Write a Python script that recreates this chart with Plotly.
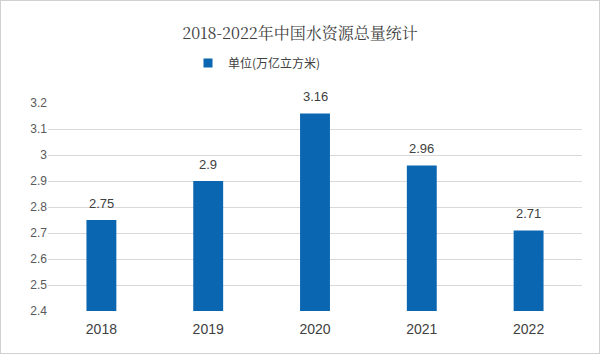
import plotly.graph_objects as go

years = ["2018", "2019", "2020", "2021", "2022"]
values = [2.75, 2.9, 3.16, 2.96, 2.71]
value_labels = ["2.75", "2.9", "3.16", "2.96", "2.71"]
series_name = "单位(万亿立方米)"
title_text = "2018-2022年中国水资源总量统计"
bar_color = "#0b66b2"

fig = go.Figure()
fig.add_trace(go.Bar(
    x=years, y=values, name=series_name,
    marker=dict(color=bar_color, line=dict(width=0)),
    showlegend=False, legendgroup="s",
))
# legend entry with a small square symbol like the reference
fig.add_trace(go.Scatter(
    x=[None], y=[None], mode="markers", name=series_name, legendgroup="s",
    marker=dict(symbol="square", size=9, color=bar_color), showlegend=True,
))

# category axis: annotations positioned by category index
annotations = [
    dict(x=i, y=v, text=lbl, xref="x", yref="y", showarrow=False, yanchor="bottom", yshift=7,
         font=dict(size=13, color="#404040", family="Liberation Sans, Arial"))
    for i, (v, lbl) in enumerate(zip(values, value_labels))
]

fig.update_layout(
    width=600, height=354,
    paper_bgcolor="white", plot_bgcolor="white",
    margin=dict(l=48, r=18, t=103, b=43),
    bargap=0.72,
    title=dict(text=title_text, x=0.5, xanchor="center", y=1 - 33/354, yanchor="middle",
               font=dict(size=16, color="#404040", family="Noto Serif CJK SC, Noto Sans CJK SC")),
    legend=dict(orientation="h", xref="container", x=188/600, xanchor="left",
                yref="container", y=1 - 63/354, yanchor="middle",
                font=dict(size=12, color="#404040", family="Noto Sans CJK SC"), itemwidth=30),
    xaxis=dict(type="category", range=[-0.5, len(years) - 0.5], showgrid=False, showline=False,
               ticks="", ticklabelstandoff=8,
               tickfont=dict(size=14, color="#404040", family="Liberation Sans, Arial")),
    yaxis=dict(range=[2.4, 3.2], dtick=0.1, tick0=2.4, showgrid=True, gridcolor="#d9d9d9", gridwidth=1,
               zeroline=False, showline=False, ticks="", tickformat="~g",
               tickfont=dict(size=12, color="#595959", family="Liberation Sans, Arial")),
    annotations=annotations,
    shapes=[dict(type="rect", xref="paper", yref="paper", x0=-48/534, x1=1+18/534, y0=-43/208, y1=1+103/208,
                 line=dict(color="#d0d0d0", width=2), fillcolor="rgba(0,0,0,0)")],
)

fig.write_html("out.html")
